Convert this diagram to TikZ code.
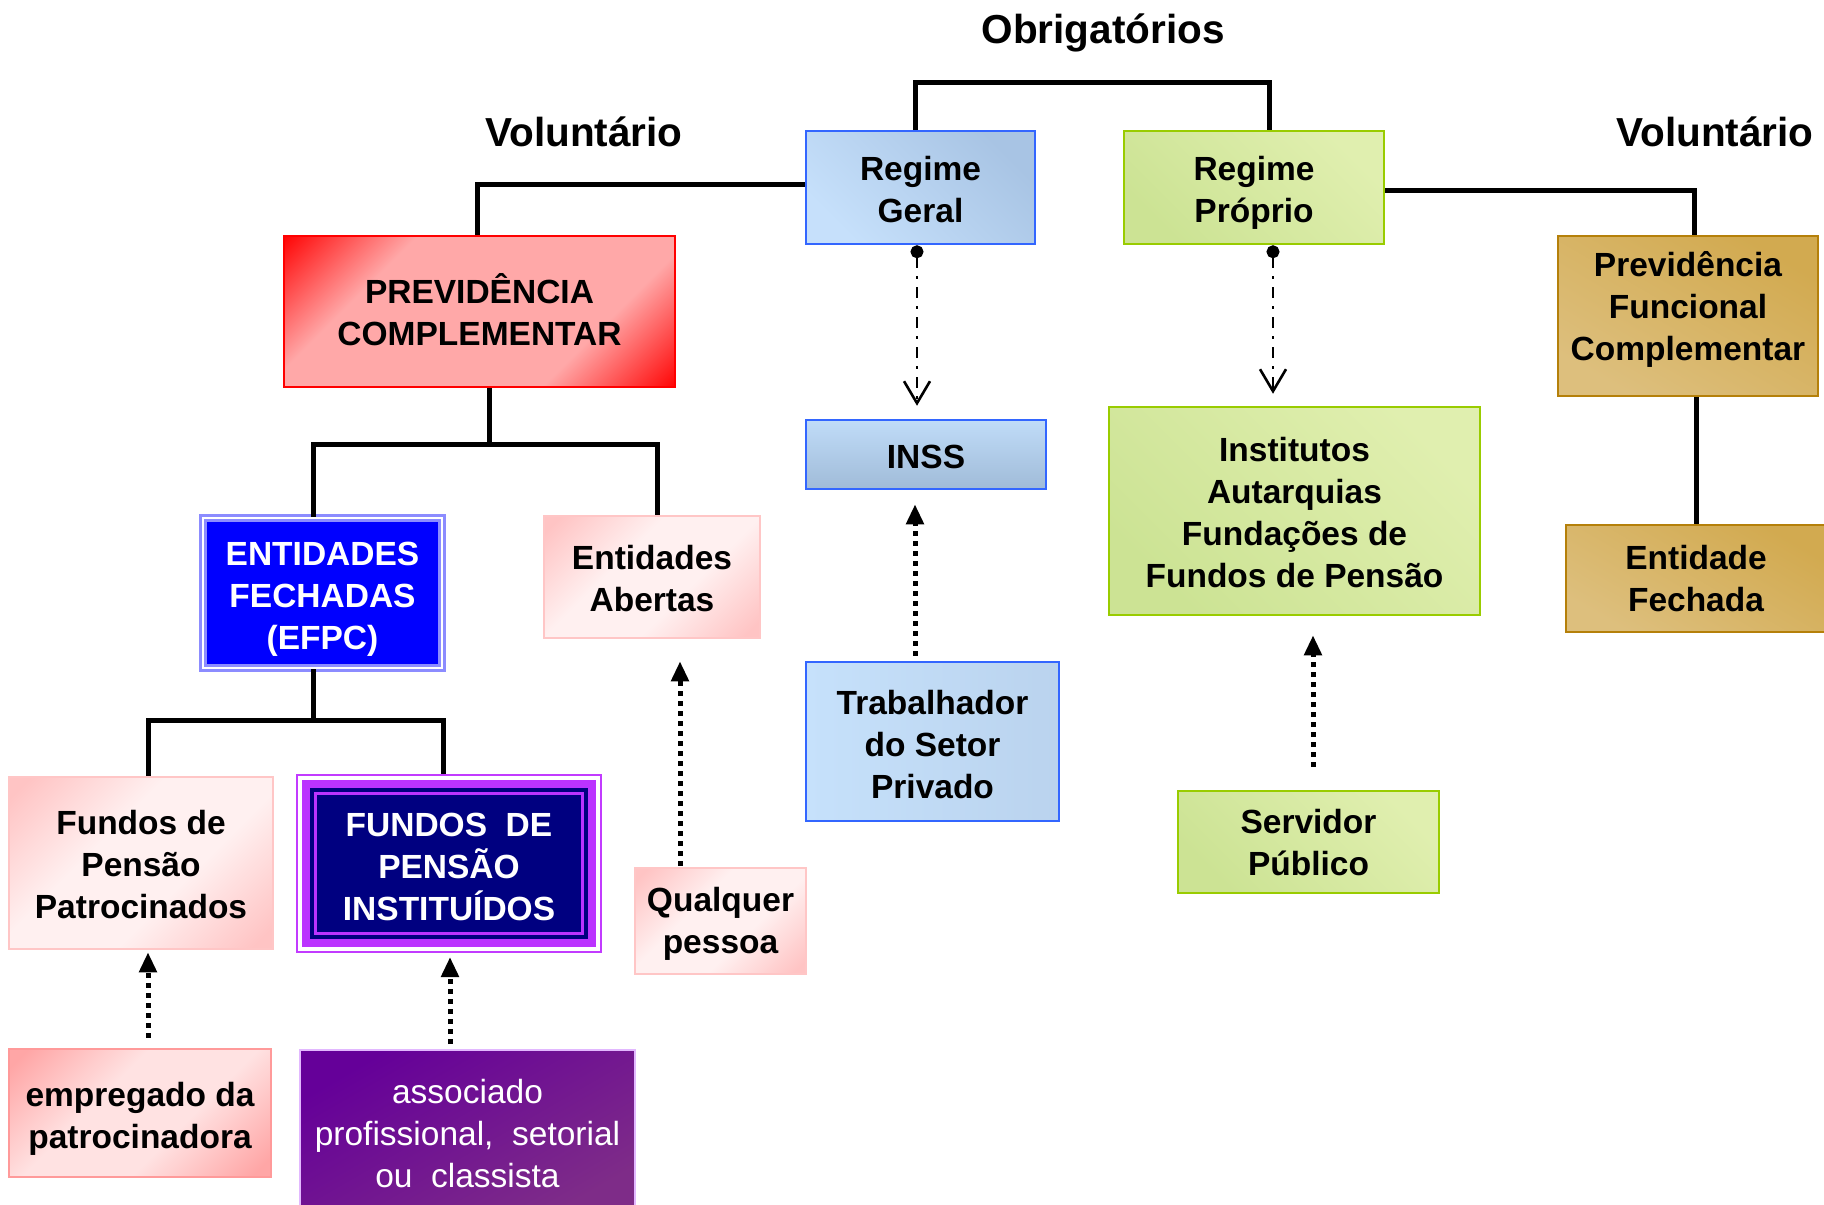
\documentclass[tikz,border=0pt]{standalone}
\usepackage{fontspec}
\setmainfont{Liberation Sans}
\usetikzlibrary{arrows.meta}
\newcommand\bxfont{\fontsize{33.5}{42}\selectfont\bfseries}
\newcommand\bxregfont{\fontsize{33.5}{42}\selectfont}
\newcommand\ttlfont{\fontsize{40.5}{48}\selectfont\bfseries}
\definecolor{blueBorder}{HTML}{3366FF}
\definecolor{geralL}{HTML}{C6E0FB}
\definecolor{geralD}{HTML}{A8C4E4}
\definecolor{inssL}{HTML}{C0DCF8}
\definecolor{inssD}{HTML}{A0BBD8}
\definecolor{trabL}{HTML}{C6E1FB}
\definecolor{trabD}{HTML}{BAD3EE}
\definecolor{greenBorder}{HTML}{99CC00}
\definecolor{greenL}{HTML}{E0EFAF}
\definecolor{greenD}{HTML}{CCE394}
\definecolor{goldBorder}{HTML}{B5800A}
\definecolor{goldL}{HTML}{DDBF7D}
\definecolor{goldD}{HTML}{D2AA50}
\definecolor{redBorder}{HTML}{FF0000}
\definecolor{prevMid}{HTML}{FFA8A8}
\definecolor{pinkBorder}{HTML}{FFC6C6}
\definecolor{pinkEdge}{HTML}{FFC4C4}
\definecolor{pinkMid}{HTML}{FFF0F0}
\definecolor{empBorder}{HTML}{FF9A9A}
\definecolor{empEdge}{HTML}{FFA6A6}
\definecolor{empMid}{HTML}{FFE2E2}
\definecolor{efpcFill}{HTML}{0000FF}
\definecolor{efpcLine}{HTML}{8C8CFF}
\definecolor{navyFill}{HTML}{000080}
\definecolor{violetLine}{HTML}{C23BFF}
\definecolor{violetBand}{HTML}{BB33FF}
\definecolor{assocL}{HTML}{650099}
\definecolor{assocR}{HTML}{7E2C88}
\definecolor{assocBorder}{HTML}{E2B8FF}
\pgfdeclarehorizontalshading{prevshade}{100bp}{color(0bp)=(redBorder); color(14bp)=(redBorder); color(32bp)=(prevMid); color(68bp)=(prevMid); color(86bp)=(redBorder); color(100bp)=(redBorder)}
\pgfdeclarehorizontalshading{pinkshade}{100bp}{color(0bp)=(pinkEdge); color(18bp)=(pinkEdge); color(40bp)=(pinkMid); color(60bp)=(pinkMid); color(82bp)=(pinkEdge); color(100bp)=(pinkEdge)}
\pgfdeclarehorizontalshading{empshade}{100bp}{color(0bp)=(empEdge); color(18bp)=(empEdge); color(40bp)=(empMid); color(60bp)=(empMid); color(82bp)=(empEdge); color(100bp)=(empEdge)}
\tikzset{
  bx/.style={draw, line width=2.5pt, align=center, inner sep=0pt, font=\bxfont, text=black, text depth=0pt},
  ttl/.style={font=\ttlfont, inner sep=0pt},
  bluebx/.style={bx, draw=blueBorder, top color=geralD, bottom color=geralL, shading angle=-45},
  inssbx/.style={bx, draw=blueBorder, top color=inssL, bottom color=inssD},
  trabbx/.style={bx, draw=blueBorder, left color=trabL, right color=trabD},
  greenbx/.style={bx, draw=greenBorder, top color=greenL, bottom color=greenD, shading angle=-45},
  goldbx/.style={bx, draw=goldBorder, top color=goldD, bottom color=goldL, shading angle=-30},
  prevbx/.style={bx, draw=redBorder, shading=prevshade, shading angle=-45},
  pinkbx/.style={bx, draw=pinkBorder, shading=pinkshade, shading angle=-45},
  empbx/.style={bx, draw=empBorder, shading=empshade, shading angle=-45},
  efpcbx/.style={bx, draw=efpcLine, double=white, line width=2.8pt, double distance=2pt, fill=efpcFill, text=white},
  institbx/.style={bx, draw=violetLine, line width=2pt, fill=white, text=white,
    path picture={
      \fill[violetBand] ([shift={(5pt,-5pt)}]path picture bounding box.north west) rectangle ([shift={(-5pt,5pt)}]path picture bounding box.south east);
      \fill[navyFill] ([shift={(13pt,-13pt)}]path picture bounding box.north west) rectangle ([shift={(-13pt,13pt)}]path picture bounding box.south east);
      \draw[violetBand, line width=2.5pt] ([shift={(18.5pt,-18.5pt)}]path picture bounding box.north west) rectangle ([shift={(-18.5pt,18.5pt)}]path picture bounding box.south east);
    }},
  assocbx/.style={bx, font=\bxregfont, draw=assocBorder, line width=2pt, left color=assocL, right color=assocR, shading angle=30, text=white},
  conn/.style={line width=5pt, black},
  ddarrow/.style={line width=2.2pt, dash pattern=on 11pt off 8pt on 3pt off 8pt, {Circle[length=13pt]}-{Straight Barb[length=22pt,width=26pt,line width=2.6pt]}},
  dotarrow/.style={line width=5pt, dash pattern=on 5pt off 5pt, -{Triangle[length=20pt,width=17pt]}}
}
\begin{document}
\begin{tikzpicture}[x=1pt,y=-1pt]
\path[fill=white, use as bounding box] (0,0) rectangle (1824,1205);

% titles
\node[ttl] (obr) at (1103,33) {Obrigatórios};
\node[ttl] (volL) at (584,132) {Voluntário};
\node[ttl] (volR) at (1715,132) {Voluntário};

% boxes
\node[bluebx, minimum width=229pt, minimum height=113pt, text height=70.2pt] (geral) at (920.5,187.5) {Regime\\Geral};
\node[greenbx, minimum width=260pt, minimum height=113pt, text height=70.2pt] (proprio) at (1254,187.5) {Regime\\Próprio};
\node[prevbx, minimum width=391pt, minimum height=151pt, text depth=4.6pt] (prev) at (479.5,311.5) {PREVIDÊNCIA\\COMPLEMENTAR};
\node[efpcbx, minimum width=239pt, minimum height=150pt, text height=112.8pt] (efpc) at (322.5,593) {ENTIDADES\\FECHADAS\\(EFPC)};
\node[pinkbx, minimum width=216pt, minimum height=122pt, text height=68.4pt] (abertas) at (652,577) {Entidades\\Abertas};
\node[pinkbx, minimum width=264pt, minimum height=172pt, text height=111.4pt] (patroc) at (141,863) {Fundos de\\Pensão\\Patrocinados};
\node[institbx, minimum width=304pt, minimum height=177pt, text height=113.2pt] (instit) at (449,863.5) {FUNDOS \ DE\\PENSÃO\\INSTITUÍDOS};
\node[empbx, minimum width=262pt, minimum height=128pt, text height=71pt] (empreg) at (140,1113) {empregado da\\patrocinadora};
\node[assocbx, minimum width=335pt, minimum height=166pt] (assoc) at (467.5,1133) {associado\\profissional, \ setorial\\ou \ classista};
\node[pinkbx, minimum width=171pt, minimum height=106pt, text depth=1pt] (qualq) at (720.5,921) {Qualquer\\pessoa};
\node[inssbx, minimum width=240pt, minimum height=69pt, text height=28.2pt] (inss) at (926,454.5) {INSS};
\node[trabbx, minimum width=253pt, minimum height=159pt, text height=113pt] (trab) at (932.5,741.5) {Trabalhador\\do Setor\\Privado};
\node[greenbx, minimum width=371pt, minimum height=208pt, text height=153.2pt] (institutos) at (1294.5,511) {Institutos\\Autarquias\\Fundações de\\Fundos de Pensão};
\node[greenbx, minimum width=261pt, minimum height=102pt] (servidor) at (1308.5,842) {Servidor\\Público};
\node[goldbx, minimum width=260pt, minimum height=160pt, text depth=20.4pt] (pfc) at (1688,316) {Previdência\\Funcional\\Complementar};
\node[goldbx, minimum width=260pt, minimum height=107pt] (entfech) at (1696,578.5) {Entidade\\Fechada};

% tree connectors
\draw[conn] ([xshift=-5.5pt]geral.north) -- ++(0,-47) -| ([xshift=15pt]proprio.north);
\draw[conn] ([yshift=3.5pt]geral.west) -| ([xshift=-2.5pt]prev.north);
\draw[conn] ([yshift=-2.5pt]proprio.east) -| ([xshift=6pt]pfc.north);
\draw[conn] ([xshift=9.5pt]prev.south) -- ++(0,56) coordinate (pj);
\draw[conn] ([xshift=-9.5pt]efpc.north) |- (pj) -| ([xshift=5pt]abertas.north);
\draw[conn] ([xshift=-9.5pt]efpc.south) -- ++(0,51) coordinate (ej);
\draw[conn] ([xshift=7pt]patroc.north) |- (ej) -| ([xshift=-6pt]instit.north);
\draw[conn] ([xshift=8pt]pfc.south) -- (entfech.north);

% dash-dot arrows
\draw[ddarrow] ([xshift=-3.5pt]geral.south) -- ([xshift=-9pt,yshift=13pt]inss.north);
\draw[ddarrow] ([xshift=19pt]proprio.south) -- ([xshift=-21.5pt,yshift=12pt]institutos.north);

% dotted arrows
\draw[dotarrow] ([xshift=-17.5pt,yshift=5pt]trab.north) -- ([xshift=-11pt,yshift=-14pt]inss.south);
\draw[dotarrow] ([xshift=-40.5pt,yshift=1pt]qualq.north) -- ([xshift=28pt,yshift=-22pt]abertas.south);
\draw[dotarrow] ([xshift=8pt,yshift=10pt]empreg.north) -- ([xshift=7pt,yshift=-2pt]patroc.south);
\draw[dotarrow] ([xshift=-17.5pt,yshift=5pt]assoc.north) -- ([xshift=1pt,yshift=-4pt]instit.south);
\draw[dotarrow] ([xshift=4.5pt,yshift=23pt]servidor.north) -- ([xshift=18.5pt,yshift=-19pt]institutos.south);
\end{tikzpicture}
\end{document}
